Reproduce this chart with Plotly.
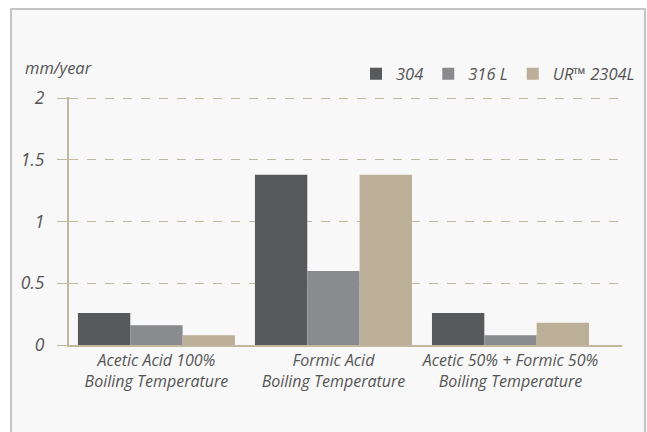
import plotly.graph_objects as go

# Corrosion rates in boiling organic acids (mm/year)
categories = [
    "Acetic Acid 100%<br>Boiling Temperature",
    "Formic Acid<br>Boiling Temperature",
    "Acetic 50% + Formic 50%<br>Boiling Temperature",
]
grades = ["304", "316 L", "UR™ 2304L"]
rate_304 = [0.26, 1.38, 0.26]
rate_316l = [0.16, 0.60, 0.08]
rate_2304l = [0.08, 1.38, 0.18]
y_ticks = [0, 0.5, 1, 1.5, 2]
y_ticktext = ["0", "0.5", "1", "1.5", "2"]

colors = ["#58595b", "#8a8b8f", "#bbb097"]
tan = "#c2b89f"
text_color = "#555555"
font_family = "Open Sans, Noto Sans, sans-serif"

fig = go.Figure()
for name, vals, col in zip(grades, [rate_304, rate_316l, rate_2304l], colors):
    fig.add_trace(go.Bar(name=name, x=categories, y=vals, marker_color=col,
                         marker_line_width=0))

# panel with a light grey frame behind the chart
L, R, T, B = 69, 25, 97, 87
W, H = 647, 432
pw, ph = W - L - R, H - T - B
y_top = 2.01

def px_x(p):
    return (p - L) / pw

def px_y(p):
    return (H - B - p) / ph

fig.add_shape(type="rect", xref="paper", yref="paper", layer="below",
              x0=px_x(11), x1=px_x(645), y0=px_y(9), y1=px_y(445),
              fillcolor="#f8f8f8", line=dict(color="#c4c4c4", width=2))

fig.add_annotation(text="<i>mm/year</i>", xref="paper", yref="paper",
                   x=px_x(23), y=px_y(67), xanchor="left", yanchor="middle",
                   showarrow=False, font=dict(size=16.5, color=text_color, family=font_family))

fig.update_layout(
    width=W, height=H,
    margin=dict(l=L, r=R, t=T, b=B, autoexpand=False),
    paper_bgcolor="white",
    plot_bgcolor="rgba(0,0,0,0)",
    barmode="group",
    bargap=0.113,
    bargroupgap=0,
    font=dict(family=font_family, color=text_color, size=16),
    legend=dict(orientation="h", xref="paper", yref="paper",
                x=px_x(640), xanchor="right", y=px_y(74), yanchor="middle",
                bgcolor="rgba(0,0,0,0)",
                font=dict(size=16.5, color=text_color, family=font_family, style="italic"),
                itemsizing="constant", traceorder="normal"),
    xaxis=dict(range=[-0.494, 2.630], showgrid=False, showline=True,
               linecolor=tan, linewidth=2,
               ticks="", tickfont=dict(size=16, style="italic")),
    yaxis=dict(range=[0, y_top], tickvals=y_ticks, ticktext=y_ticktext,
               showgrid=True, gridcolor=tan, griddash="dash", gridwidth=1,
               zeroline=False, showline=True, linecolor=tan, linewidth=2,
               ticks="outside", ticklen=10, tickcolor=tan, tickwidth=1,
               ticklabelstandoff=9,
               tickfont=dict(size=17.5, style="italic")),
)

fig.write_html("out.html")
